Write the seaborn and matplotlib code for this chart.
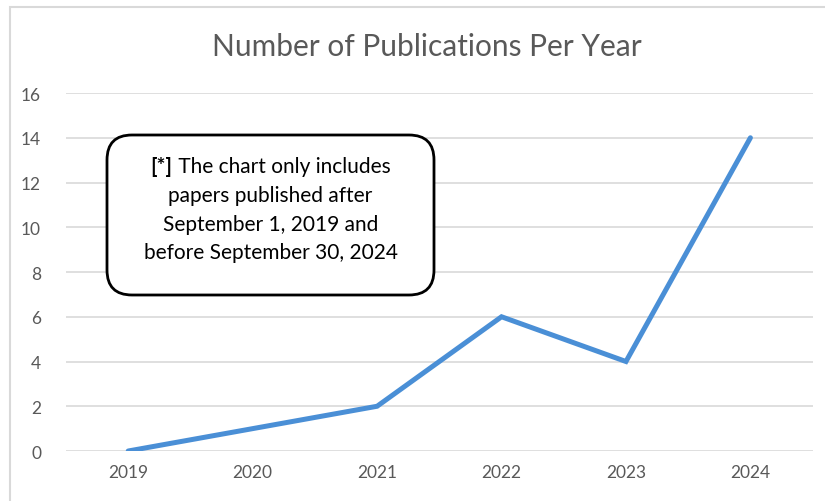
import matplotlib
matplotlib.use("Agg")
import matplotlib.pyplot as plt
from matplotlib.patches import FancyBboxPatch, Rectangle
import seaborn as sns
import pandas as pd

# Publication counts per year
years = ["2019", "2020", "2021", "2022", "2023", "2024"]
publications = [0, 1, 2, 6, 4, 14]
y_ticks = [0, 2, 4, 6, 8, 10, 12, 14, 16]

title = "Number of Publications Per Year"
note_bold = "[*]"
note_lines = [
    " The chart only includes",
    "papers published after",
    "September 1, 2019 and",
    "before September 30, 2024",
]

sns.set_theme(style="white")
plt.rcParams["font.family"] = ["Lato", "DejaVu Sans"]

df = pd.DataFrame({"year": years, "count": publications})

fig = plt.figure(figsize=(8.25, 5.02), dpi=100)
ax = fig.add_axes([0.08, 0.0996, 0.905, 0.7131])

sns.lineplot(data=df, x="year", y="count", ax=ax, color="#4A8FD6",
             linewidth=3.6, solid_capstyle="round", solid_joinstyle="miter")

ax.set_xlim(-0.5, len(years) - 0.5)
ax.set_ylim(0, 16)
ax.set_yticks(y_ticks)
ax.set_xlabel("")
ax.set_ylabel("")
ax.grid(axis="y", color="#D9D9D9", linewidth=1.2)
ax.set_axisbelow(True)
for s in ax.spines.values():
    s.set_visible(False)
ax.tick_params(axis="both", length=0, labelsize=12.5, labelcolor="#595959")
ax.tick_params(axis="y", pad=18)
ax.tick_params(axis="x", pad=9)

fig.text(0.518, 0.906, title, ha="center", va="center", fontsize=21.5,
         color="#595959", fontweight="normal")

# Light chart-area border
fig.patches.append(Rectangle((0.10, -0.2), 9.0, 5.14, transform=fig.dpi_scale_trans,
                             fill=False, edgecolor="#D9D9D9", linewidth=1.5))

# Rounded note box
box = FancyBboxPatch((1.07 + 0.25, 2.06 + 0.25), 3.27 - 0.5, 1.60 - 0.5,
                     boxstyle="round,pad=0.25", transform=fig.dpi_scale_trans,
                     facecolor="white", edgecolor="black", linewidth=2.0, zorder=5)
fig.patches.append(box)

cx = 2.705
line_y = [3.35, 3.06, 2.77, 2.49]
fs = 15
renderer = fig.canvas.get_renderer()
t_bold = fig.text(0, line_y[0], note_bold, transform=fig.dpi_scale_trans, fontsize=fs,
                  fontweight="bold", color="black", va="center", ha="left", zorder=6)
t_rest = fig.text(0, line_y[0], note_lines[0], transform=fig.dpi_scale_trans, fontsize=fs,
                  color="black", va="center", ha="left", zorder=6)
wb = t_bold.get_window_extent(renderer).width / fig.dpi
wr = t_rest.get_window_extent(renderer).width / fig.dpi
x0 = cx - (wb + wr) / 2
t_bold.set_x(x0)
t_rest.set_x(x0 + wb)
for yy, line in zip(line_y[1:], note_lines[1:]):
    fig.text(cx, yy, line, transform=fig.dpi_scale_trans, fontsize=fs,
             color="black", va="center", ha="center", zorder=6)

fig.savefig("out.png", dpi=100)
